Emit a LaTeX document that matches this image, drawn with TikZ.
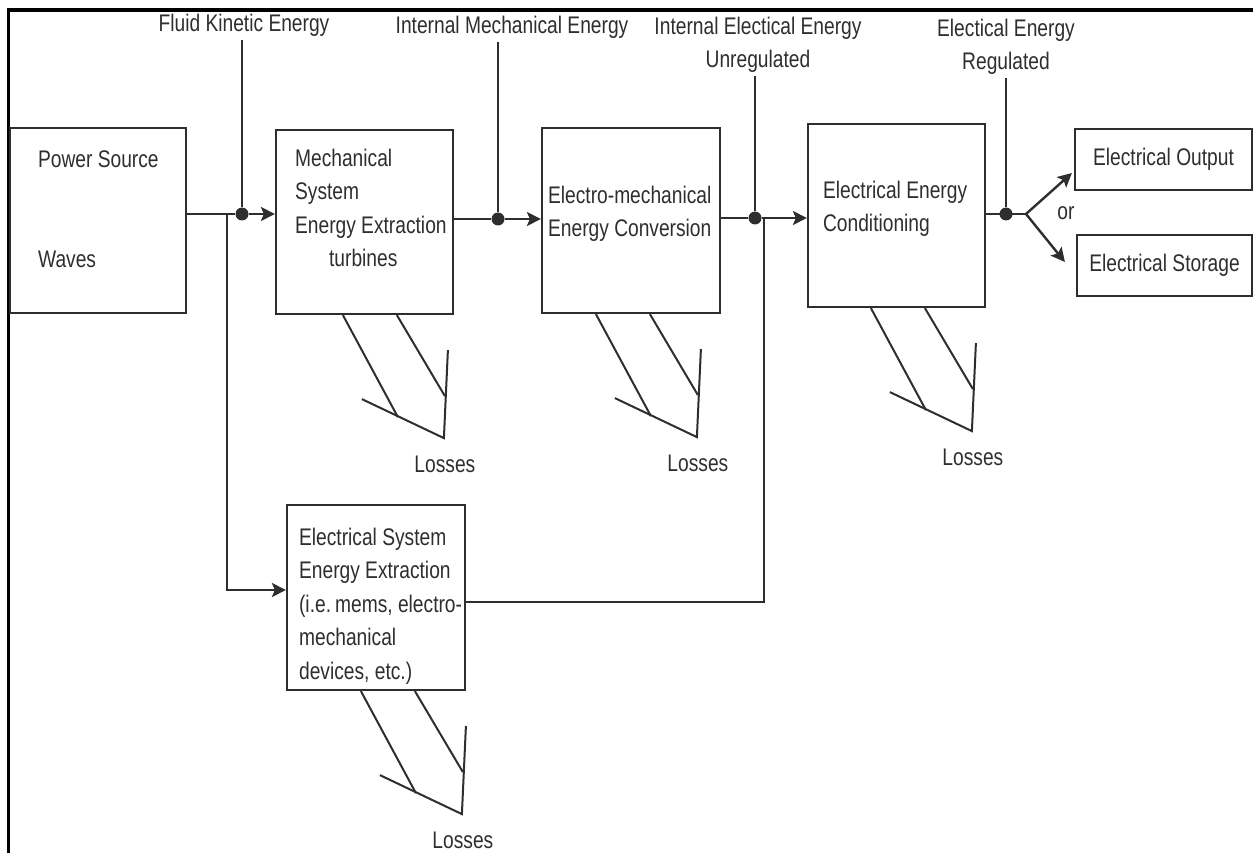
\documentclass[tikz,border=0pt]{standalone}
\usepackage{fontspec}
\setmainfont{Liberation Sans}[FakeStretch=0.8]
\usetikzlibrary{arrows.meta}
\definecolor{ink}{HTML}{2E2E2E}
\begin{document}
\begin{tikzpicture}[x=1pt,y=-1pt,
  every node/.style={text=ink, font=\fontsize{24}{33.5}\selectfont},
  blk/.style={draw=ink, line width=2.2pt, inner sep=0pt},
  txt/.style={align=left, inner sep=0pt, anchor=north west},
  wire/.style={draw=ink, line width=2.4pt},
  arr/.style={wire, -{Stealth[length=14pt,width=14pt,inset=3pt]}},
  feed/.style={draw=ink, line width=2pt},
  dot/.style={circle, fill=ink, inner sep=0pt, minimum size=13pt},
  losses/.pic={
    \draw[draw=ink, line width=2pt] (0,0) -- (55,102);
    \draw[draw=ink, line width=2pt] (54,0) -- (102,81);
    \draw[draw=ink, line width=2pt, line join=miter] (19,84) -- (101,123) -- (105,35);
    \node (-txt) at (102,149) {Losses};
  }
]
\useasboundingbox (0,0) rectangle (1253,853);
\draw[line width=3.4pt, black, line join=miter] (8.3,853) -- (8.3,10) -- (1253,10);

% boxes
\node[blk, minimum width=176pt, minimum height=185pt] (ps) at (98,220.5) {};
\node[txt] (pst) at ([xshift=29pt,yshift=-24pt]ps.north west) {Power Source\\[66.5pt]Waves};

\node[blk, minimum width=177pt, minimum height=184pt] (mech) at (364.5,222) {};
\node[txt] (mecht) at ([xshift=20pt,yshift=-20pt]mech.north west) {Mechanical\\System\\Energy Extraction\\\hspace*{34pt}turbines};

\node[blk, minimum width=178pt, minimum height=185pt] (emc) at (631,220.5) {};
\node[txt] (emct) at ([xshift=7pt,yshift=-59pt]emc.north west) {Electro-mechanical\\Energy Conversion};

\node[blk, minimum width=177pt, minimum height=183pt] (cond) at (896.5,215.5) {};
\node[txt] (condt) at ([xshift=16pt,yshift=-58pt]cond.north west) {Electrical Energy\\Conditioning};

\node[blk, minimum width=178pt, minimum height=185pt] (esys) at (376,597.5) {};
\node[txt] (esyst) at ([xshift=13pt,yshift=-24pt]esys.north west) {Electrical System\\Energy Extraction\\(i.e.\,mems, electro-\\mechanical\\devices, etc.)};

\node[blk, minimum width=177pt, minimum height=61pt] (eout) at (1163.5,159.5) {Electrical Output};
\node[blk, minimum width=175pt, minimum height=61pt] (estor) at (1164.5,265.5) {Electrical Storage};

% stage 1
\node[dot] (d1) at (242,214) {};
\coordinate (j1) at (227,214);
\draw[wire] (ps.east |- d1) -- (d1);
\draw[arr] (d1) -- (d1 -| mech.west);
\draw[arr] (j1) |- ([yshift=7.5pt]esys.west);
\node (fke) at (244,25) {Fluid Kinetic Energy};
\draw[feed] (d1 |- fke.south) -- (d1);

% stage 2
\node[dot] (d2) at (498,219) {};
\draw[wire] (mech.east |- d2) -- (d2);
\draw[arr] (d2) -- (d2 -| emc.west);
\node (ime) at (512,27) {Internal Mechanical Energy};
\draw[feed] (d2 |- ime.south) -- (d2);

% stage 3
\node[dot] (d3) at (755,218) {};
\coordinate (j3) at (764,218);
\draw[wire] (emc.east |- d3) -- (d3);
\draw[arr] (d3) -- (d3 -| cond.west);
\node[align=center] (iee) at (758,45) {Internal Electical Energy\\Unregulated};
\draw[feed] (d3 |- iee.south) -- (d3);
\draw[wire] (j3) |- ([yshift=-4.5pt]esys.east);

% stage 4
\node[dot] (d4) at (1006,214) {};
\coordinate (f) at (1026,214);
\draw[wire] (cond.east |- d4) -- (f);
\draw[arr] (f) -- ([xshift=-2pt,yshift=-13.5pt]eout.west);
\draw[arr] (f) -- ([xshift=-11pt,yshift=3.5pt]estor.west);
\node (ortxt) at (1066,213) {or};
\node[align=center] (eer) at (1006,47) {Electical Energy\\Regulated};
\draw[feed] (d4 |- eer.south) -- (d4);

% losses
\pic (l1) at ([xshift=68pt]mech.south west) {losses};
\pic (l2) at ([xshift=55pt]emc.south west) {losses};
\pic (l3) at ([xshift=64pt]cond.south west) {losses};
\pic (l4) at ([xshift=75pt]esys.south west) {losses};
\end{tikzpicture}
\end{document}
